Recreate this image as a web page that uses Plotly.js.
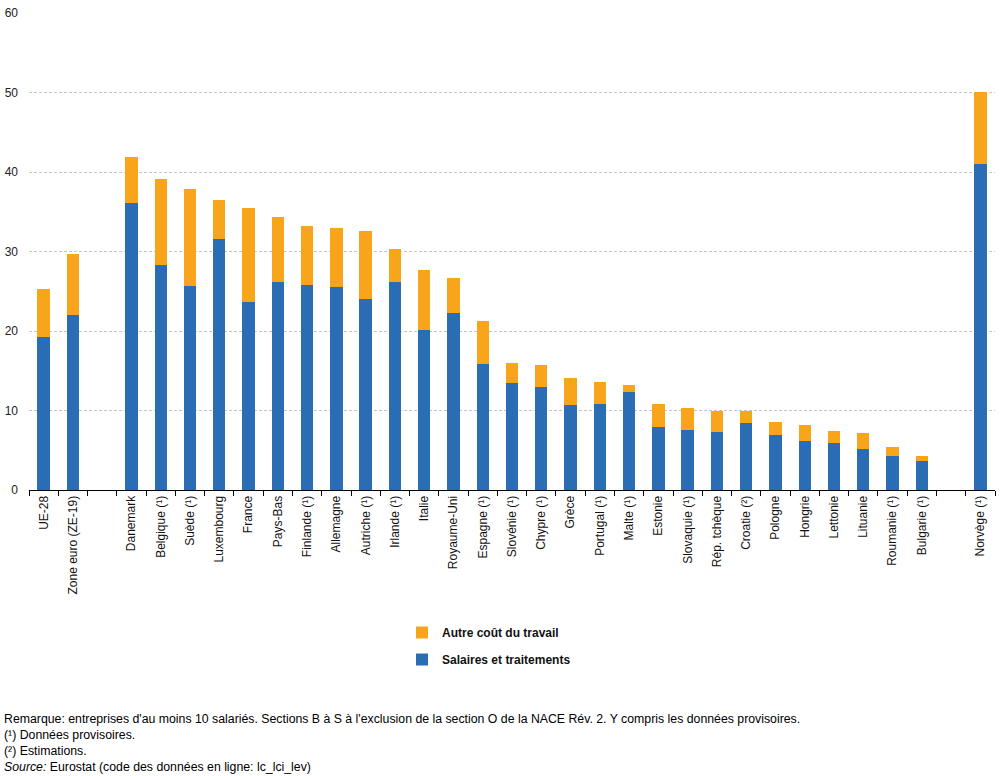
<!DOCTYPE html>
<html>
<head>
<meta charset="utf-8">
<script src="https://cdn.plot.ly/plotly-3.0.1.min.js"></script>
<style>html,body{margin:0;padding:0;background:#fff;}#chart{width:1005px;height:776px;}</style>
</head>
<body>
<div id="chart"></div>
<script>
const categories = ["UE-28", "Zone euro (ZE-19)", " ", "Danemark", "Belgique (¹)", "Suède (¹)", "Luxembourg", "France", "Pays-Bas", "Finlande (¹)", "Allemagne", "Autriche (¹)", "Irlande (¹)", "Italie", "Royaume-Uni", "Espagne (¹)", "Slovénie (¹)", "Chypre (¹)", "Grèce", "Portugal (¹)", "Malte (¹)", "Estonie", "Slovaquie (¹)", "Rép. tchèque", "Croatie (²)", "Pologne", "Hongrie", "Lettonie", "Lituanie", "Roumanie (¹)", "Bulgarie (¹)", "  ", "Norvège (¹)"];
const salaires = [19.3, 22.0, null, 36.1, 28.3, 25.7, 31.6, 23.6, 26.2, 25.8, 25.5, 24.0, 26.2, 20.1, 22.3, 15.8, 13.5, 12.95, 10.7, 10.8, 12.3, 7.9, 7.55, 7.3, 8.4, 6.9, 6.2, 5.9, 5.2, 4.3, 3.65, null, 41.0];
const autre = [6.0, 7.7, null, 5.8, 10.8, 12.2, 4.9, 11.9, 8.1, 7.4, 7.5, 8.6, 4.1, 7.6, 4.4, 5.5, 2.5, 2.75, 3.4, 2.8, 0.9, 2.9, 2.75, 2.6, 1.5, 1.65, 2.0, 1.5, 2.0, 1.1, 0.65, null, 9.1];
const seriesNames = ["Salaires et traitements", "Autre coût du travail"];
const notes = [
  "Remarque: entreprises d'au moins 10 salariés. Sections B à S à l'exclusion de la section O de la NACE Rév. 2. Y compris les données provisoires.",
  "(¹) Données provisoires.",
  "(²) Estimations.",
  "<i>Source:</i> Eurostat (code des données en ligne: lc_lci_lev)"
];

const FONT = "Liberation Sans, Arial, sans-serif";
const BLUE = "#2a6db4";
const ORANGE = "#f9a51b";

const traces = [
  {type: "bar", name: seriesNames[0], x: categories, y: salaires, marker: {color: BLUE}, legendgroup: "b", legendrank: 2},
  {type: "bar", name: seriesNames[1], x: categories, y: autre, marker: {color: ORANGE}, legendgroup: "a", legendrank: 1}
];

const noteY = [719, 735, 751, 767];
const plotTop = 13, plotBottom = 490, plotLeft = 29, plotRight = 995;
const ph = plotBottom - plotTop, pw = plotRight - plotLeft;
const annotations = notes.map((t, i) => ({
  text: t, xref: "paper", yref: "paper",
  x: (2 - plotLeft) / pw, y: (plotBottom - noteY[i]) / ph,
  xanchor: "left", yanchor: "middle", showarrow: false, align: "left",
  font: {family: FONT, size: 12.3, color: "#000"}
}));

const layout = {
  width: 1005, height: 776,
  margin: {l: plotLeft, r: 1005 - plotRight, t: plotTop, b: 776 - plotBottom, autoexpand: false},
  paper_bgcolor: "#fff", plot_bgcolor: "#fff",
  barmode: "stack", bargap: 0.58,
  font: {family: FONT, size: 12, color: "#000"},
  showlegend: true,
  legend: {
    xref: "paper", yref: "paper",
    x: (402 - plotLeft) / pw, y: (plotBottom - 618) / ph, xanchor: "left", yanchor: "top",
    orientation: "v", traceorder: "grouped", tracegroupgap: 8,
    font: {family: FONT, size: 12, color: "#111", weight: "bold"},
    bgcolor: "rgba(0,0,0,0)"
  },
  xaxis: {
    type: "category", categoryorder: "array", categoryarray: categories,
    tickmode: "linear", dtick: 1,
    tickson: "boundaries", ticks: "outside", ticklen: 5, tickcolor: "#000",
    showline: true, linecolor: "#000", linewidth: 1,
    tickangle: -90, tickfont: {family: FONT, size: 12, color: "#111"},
    showgrid: false, zeroline: false, fixedrange: true
  },
  yaxis: {
    range: [0, 60], dtick: 10, tick0: 0,
    showgrid: true, gridcolor: "#c4c4c4", griddash: "3px,2px", gridwidth: 1,
    zeroline: false, showline: false, ticks: "", ticklabelstandoff: 10,
    tickfont: {family: FONT, size: 12, color: "#222"}, fixedrange: true
  },
  annotations: annotations
};

Plotly.newPlot("chart", traces, layout, {displayModeBar: false, staticPlot: true});
</script>
</body>
</html>
